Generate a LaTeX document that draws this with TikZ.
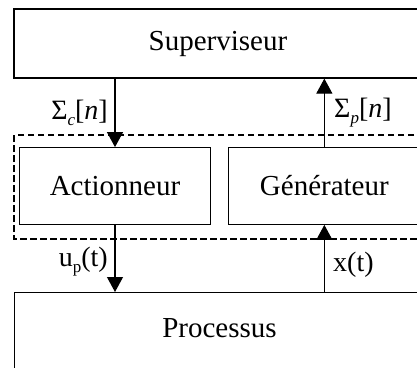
\documentclass[tikz,border=0pt]{standalone}
\usepackage{fontspec}
\setmainfont{Liberation Serif}
\usetikzlibrary{arrows.meta}
\newcommand{\subx}[1]{\raisebox{-0.22em}{\fontsize{17}{17}\selectfont #1}}
\begin{document}
\begin{tikzpicture}[x=1pt,y=-1pt,
  box/.style={draw,line width=1.2pt,rectangle,inner sep=0pt,font=\fontsize{29}{34}\selectfont},
  lbl/.style={inner sep=0pt,font=\fontsize{28}{33}\selectfont},
  arr/.style={line width=1.1pt,-{Triangle[width=16pt,length=15pt]}},
  grp/.style={draw,line width=1.3pt,dash pattern=on 6.5pt off 3.5pt}]
\useasboundingbox (0,0) rectangle (417,367);
\begin{scope}
\clip (0,0) rectangle (417,367);
\node[box,minimum width=408pt,minimum height=69pt] (sup) at (218,43.5) {Superviseur};
\draw[grp] (14,135) rectangle (430,239);
\node[box,minimum width=191.4pt,minimum height=76.6pt] (act) at (115,186) {Actionneur};
\node[box,minimum width=191.4pt,minimum height=76.6pt] (gen) at (324.35,186) {Générateur};
\node[box,minimum width=411pt,minimum height=90pt,anchor=north west] (proc) at (14,292) {};
\node[inner sep=0pt,font=\fontsize{29}{34}\selectfont] (proctxt) at (219.5,328) {Processus};
\draw[arr] (sup.south -| act.north) -- (act.north);
\draw[arr] (gen.north) -- (gen.north |- sup.south);
\draw[arr] (act.south) -- (act.south |- proc.north);
\draw[arr] (gen.south |- proc.north) -- (gen.south);
\node[lbl,anchor=east] (sc) at (108,113) {Σ\subx{\textit{c}}[\textit{n}]};
\node[lbl,anchor=west] (sp) at (334,113) {Σ\subx{\textit{p}}[\textit{n}]};
\node[lbl,anchor=east] (up) at (108,262) {u\subx{p}(t)};
\node[lbl,anchor=west] (xt) at (333,265) {x(t)};
\end{scope}
\end{tikzpicture}
\end{document}
